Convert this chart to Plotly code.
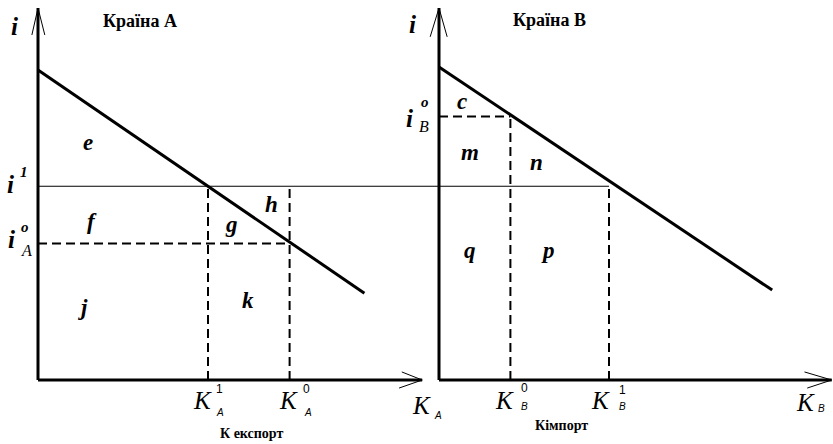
import plotly.graph_objects as go

# ---------------- data ----------------
# Country A (export)
kA_curve = [0.0, 9.6]       # K values of the demand line ends
iA_curve = [10.0, 2.8]      # i values of the demand line ends
kA1 = 5.0                   # K_A^1
kA0 = 7.4                   # K_A^0
iA0 = 4.4                   # i_A^o
i1 = 6.25                   # world rate i^1
# Country B (import)
kB_curve = [0.0, 9.8]
iB_curve = [10.1, 2.9]
kB0 = 2.1                   # K_B^0
kB1 = 5.0                   # K_B^1
iB0 = 8.5                   # i_B^o
# axis extents
kA_axis_max = 11.3
kB_axis_max = 11.55
i_axis_max = 12.0

# ---------------- layout constants ----------------
W, H = 833, 444
PX_K, PX_I = 34.0, 31.0          # pixels per unit
ORIG_A, ORIG_B, ORIG_Y = 38, 439, 380
OFFSET_B = (ORIG_B - ORIG_A) / PX_K   # right panel origin in left-panel units

xr = [-ORIG_A / PX_K, (W - ORIG_A) / PX_K]
x2r = [-ORIG_B / PX_K, (W - ORIG_B) / PX_K]
yr = [-(H - ORIG_Y) / PX_I, ORIG_Y / PX_I]

fig = go.Figure()


def seg(x, y, axis="x", width=3, dash="solid", color="black"):
    fig.add_trace(go.Scatter(x=x, y=y, xaxis=axis, yaxis="y", mode="lines",
                             line=dict(color=color, width=width, dash=dash),
                             hoverinfo="skip", showlegend=False))


DASH = "9px,5px"

# thin world-rate line i^1 across both panels
seg([0, OFFSET_B], [i1, i1], "x", width=1.2)
seg([0, kB1], [i1, i1], "x2", width=1.2)

# ---- panel A ----
seg([0, 0], [0, i_axis_max], "x")
seg([0, kA_axis_max], [0, 0], "x")
seg([-0.18, 0, 0.2], [i_axis_max - 0.87, i_axis_max, i_axis_max - 0.87], "x", width=1)
seg([kA_axis_max - 0.6, kA_axis_max, kA_axis_max - 0.68], [0.26, 0, -0.26], "x", width=1)
seg(kA_curve, iA_curve, "x", width=3)
seg([0, kA0], [iA0, iA0], "x", width=2, dash=DASH)
seg([kA1, kA1], [0, i1], "x", width=2, dash=DASH)
seg([kA0, kA0], [0, i1], "x", width=2, dash=DASH)

# ---- panel B ----
seg([0, 0], [0, i_axis_max], "x2")
seg([0, kB_axis_max], [0, 0], "x2")
seg([-0.26, 0, 0.24], [i_axis_max - 0.93, i_axis_max, i_axis_max - 0.93], "x2", width=1)
seg([kB_axis_max - 0.8, kB_axis_max, kB_axis_max - 0.72], [0.26, 0, -0.26], "x2", width=1)
seg(kB_curve, iB_curve, "x2", width=3)
seg([0, kB0], [iB0, iB0], "x2", width=2, dash=DASH)
seg([kB0, kB0], [0, iB0], "x2", width=2, dash=DASH)
seg([kB1, kB1], [0, i1], "x2", width=2, dash=DASH)

SERIF = "'Liberation Serif', 'DejaVu Serif', serif"
SANS = "'Liberation Sans', Arial, sans-serif"
anns = []


def ann(text, x, y, xref="x", size=23, bold=True, italic=True, family=SERIF):
    t = text
    if italic:
        t = "<i>" + t + "</i>"
    if bold:
        t = "<b>" + t + "</b>"
    anns.append(dict(text=t, x=x, y=y, xref=xref, yref="y", showarrow=False,
                     xanchor="center", yanchor="middle",
                     font=dict(family=family, size=size, color="black")))


# panel A labels
ann("i", -0.68, 11.4, size=25)
ann("Країна А", 3.0, 11.58, size=18, italic=False)
ann("e", 1.47, 7.65)
ann("i", -0.8, i1 + 0.07, size=25)
ann("1", -0.42, i1 + 0.45, size=15)
ann("i", -0.78, iA0 + 0.12, size=25)
ann("o", -0.38, iA0 + 0.52, size=15)
ann("A", -0.35, iA0 - 0.21, size=16, bold=False)
ann("f", 1.59, 5.1)
ann("g", 5.7, 5.03)
ann("h", 6.88, 5.65)
ann("j", 1.32, 2.35)
ann("k", 6.18, 2.58)
ann("K", kA1 - 0.15, -0.65, size=25, bold=False)
ann("1", kA1 + 0.33, -0.3, size=12, bold=False, italic=False, family=SANS)
ann("A", kA1 + 0.36, -1.05, size=10, bold=False, family=SANS)
ann("K", kA0 - 0.02, -0.65, size=25, bold=False)
ann("0", kA0 + 0.5, -0.3, size=12, bold=False, italic=False, family=SANS)
ann("A", kA0 + 0.53, -1.05, size=10, bold=False, family=SANS)
ann("К експорт", 6.29, -1.74, size=14, italic=False)
ann("K", 11.29, -0.81, size=25, bold=False)
ann("A", 11.76, -1.16, size=10, bold=False, family=SANS)

# panel B labels
ann("i", -0.79, 11.48, xref="x2", size=25)
ann("Країна В", 3.24, 11.61, xref="x2", size=18, italic=False)
ann("c", 0.68, 8.97, xref="x2")
ann("i", -0.87, iB0 - 0.08, xref="x2", size=25)
ann("o", -0.41, iB0 + 0.46, xref="x2", size=15)
ann("B", -0.44, iB0 - 0.31, xref="x2", size=16, bold=False)
ann("m", 0.91, 7.35, xref="x2")
ann("n", 2.88, 7.03, xref="x2")
ann("q", 0.91, 4.19, xref="x2")
ann("p", 3.2, 4.19, xref="x2")
ann("K", kB0 - 0.17, -0.65, xref="x2", size=25, bold=False)
ann("0", kB0 + 0.4, -0.26, xref="x2", size=12, bold=False, italic=False, family=SANS)
ann("B", kB0 + 0.4, -0.87, xref="x2", size=10, bold=False, family=SANS)
ann("K", kB1 - 0.24, -0.65, xref="x2", size=25, bold=False)
ann("1", kB1 + 0.4, -0.32, xref="x2", size=12, bold=False, italic=False, family=SANS)
ann("B", kB1 + 0.4, -0.87, xref="x2", size=10, bold=False, family=SANS)
ann("Кімпорт", 3.59, -1.48, xref="x2", size=14, italic=False)
ann("K", 10.79, -0.71, xref="x2", size=25, bold=False)
ann("B", 11.26, -0.92, xref="x2", size=10, bold=False, family=SANS)

fig.update_layout(
    width=W, height=H,
    margin=dict(l=0, r=0, t=0, b=0),
    paper_bgcolor="white", plot_bgcolor="white",
    showlegend=False,
    xaxis=dict(range=xr, visible=False, fixedrange=True),
    xaxis2=dict(range=x2r, visible=False, overlaying="x", fixedrange=True),
    yaxis=dict(range=yr, visible=False, fixedrange=True),
    annotations=anns,
)

fig.write_html("out.html", config={"displayModeBar": False},
               post_script="document.body.style.margin='0';document.body.style.overflow='hidden';")
